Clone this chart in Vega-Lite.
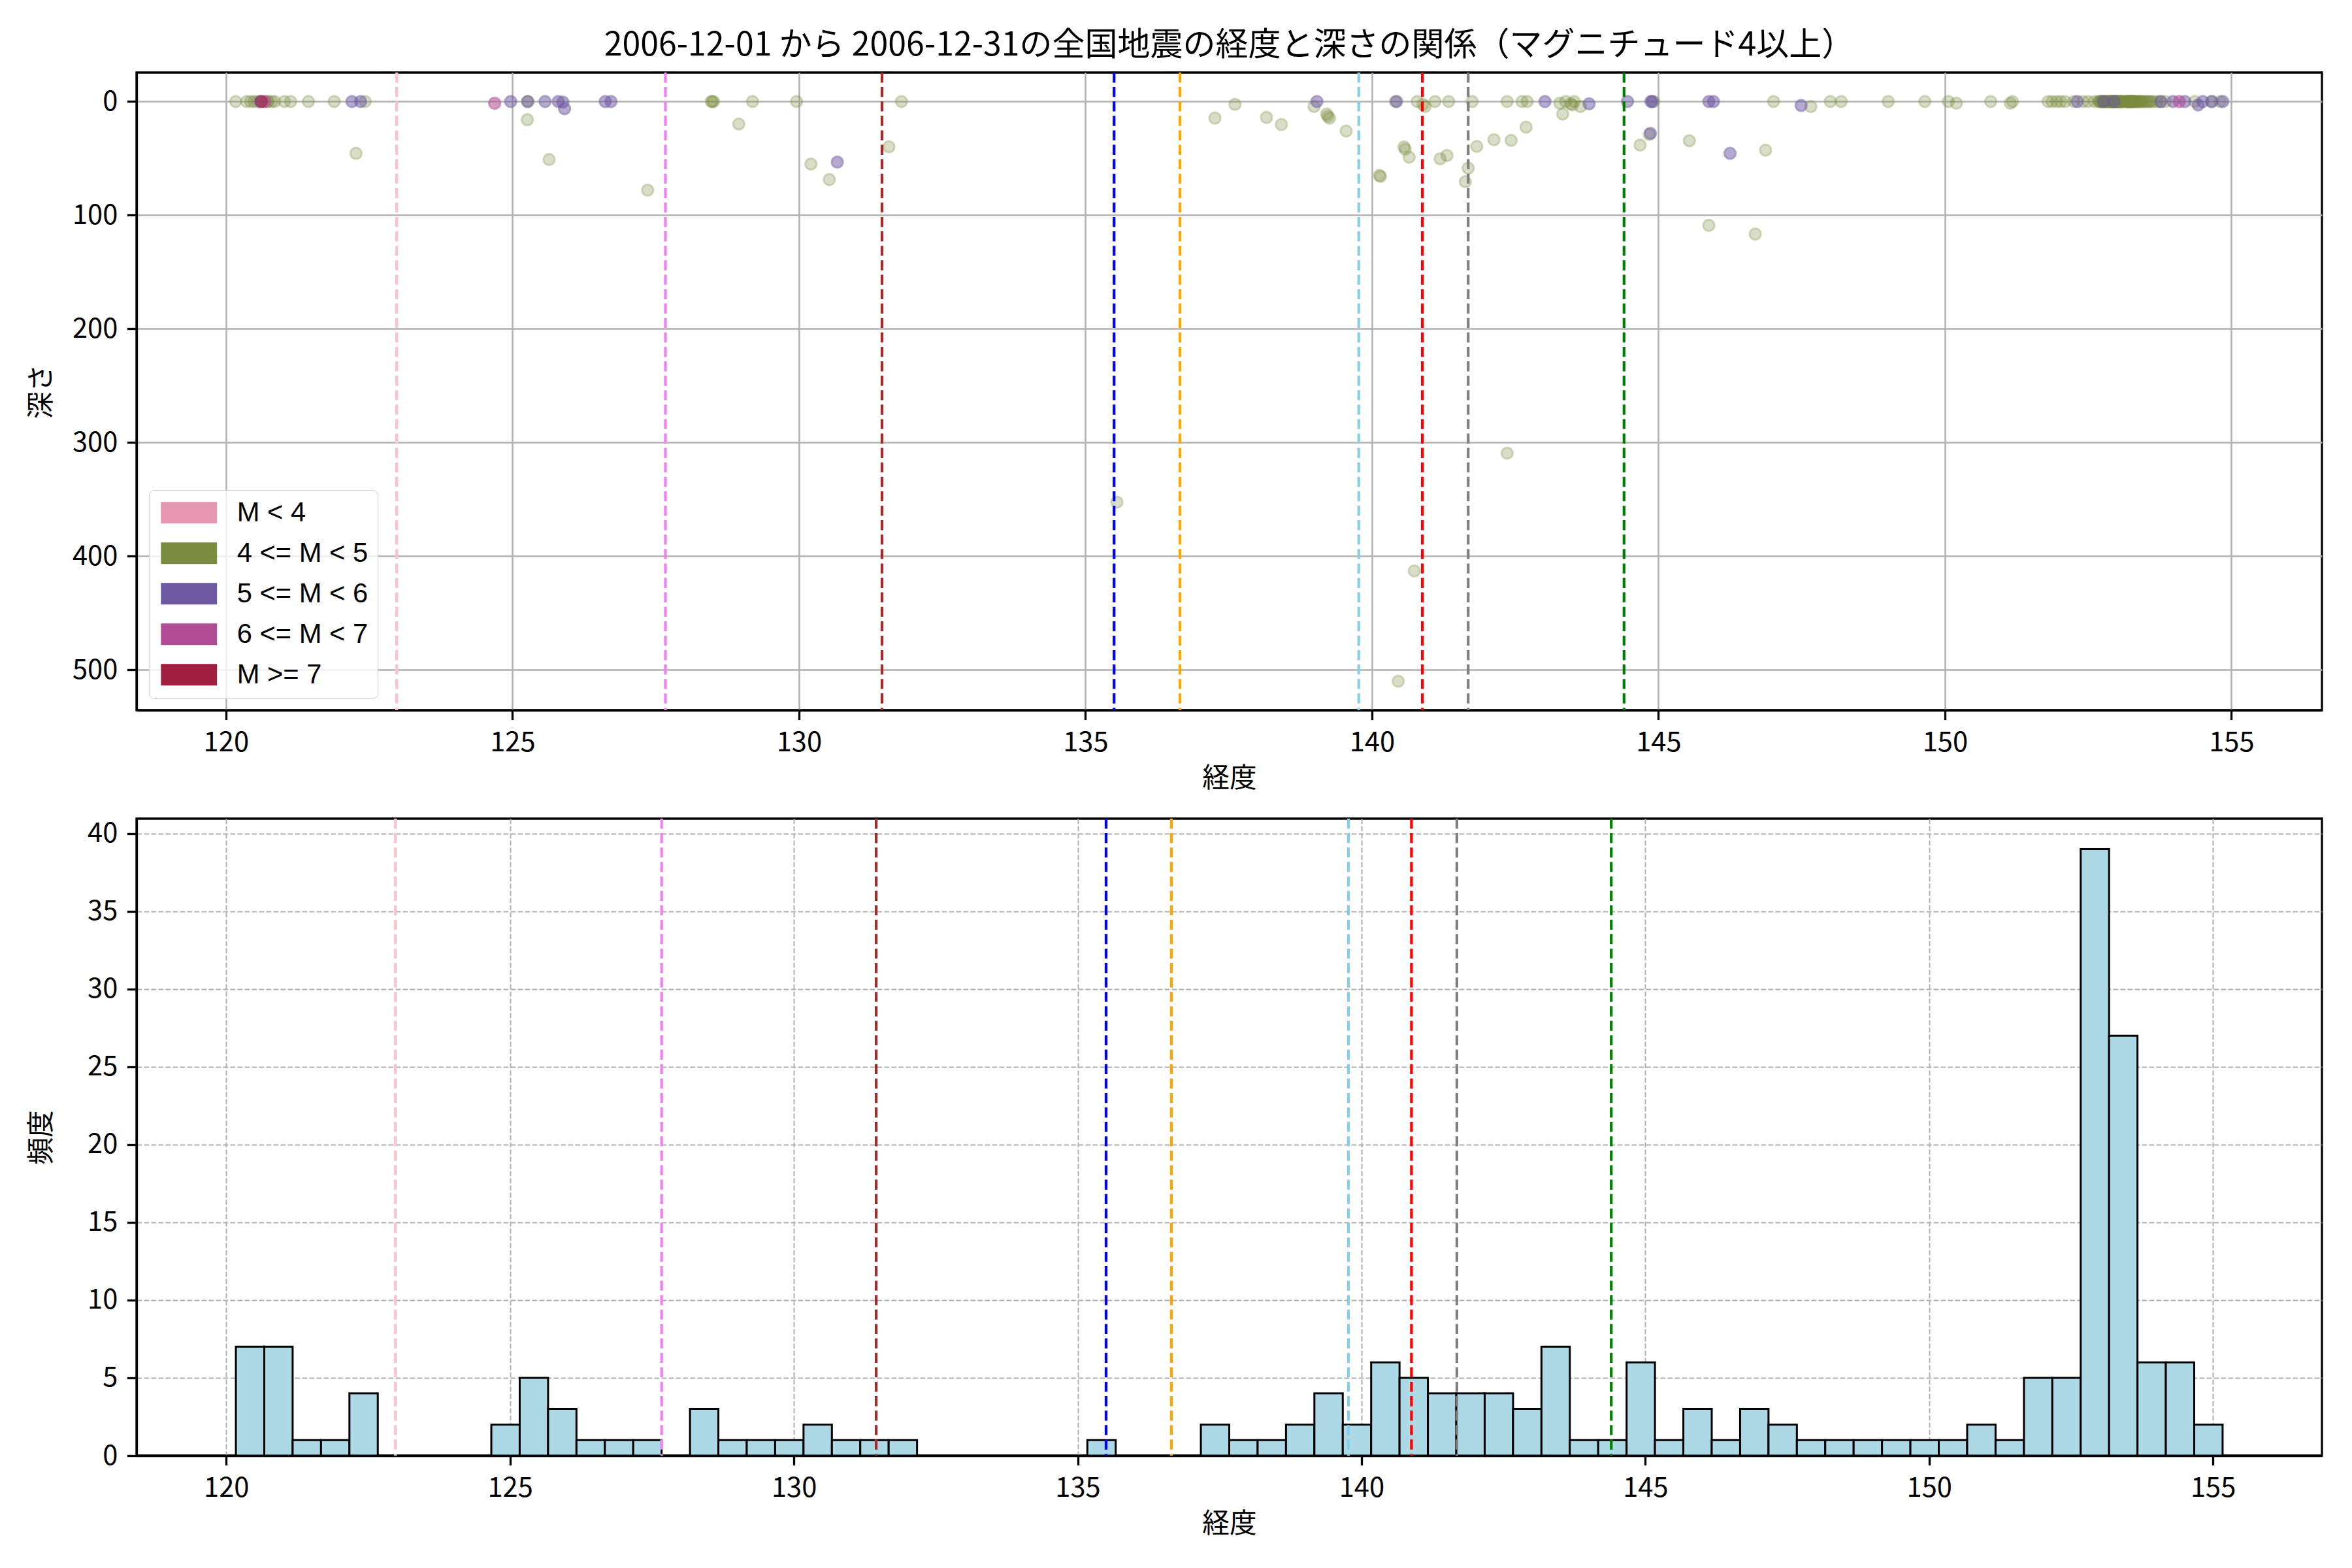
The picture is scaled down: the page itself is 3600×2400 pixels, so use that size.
{
  "$schema": "https://vega.github.io/schema/vega-lite/v6.json",
  "background": "white",
  "padding": {"left": 41, "top": 43, "right": 40, "bottom": 30},
  "spacing": 33,
  "config": {
    "font": "Noto Sans CJK JP",
    "view": {"stroke": "black", "strokeWidth": 3.3},
    "axis": {
      "labelFont": "Noto Sans CJK JP",
      "titleFont": "Noto Sans CJK JP",
      "labelFontSize": 41.7,
      "titleFontSize": 41.7,
      "titleFontWeight": "normal",
      "labelColor": "black",
      "titleColor": "black",
      "tickColor": "black",
      "tickSize": 14.6,
      "tickWidth": 3.3,
      "labelPadding": 14.6,
      "domainColor": "black",
      "domainWidth": 3.3,
      "zindex": 1
    }
  },
  "datasets": {
    "lines": [
      {"lon": 122.98, "ref": "L1"},
      {"lon": 127.67, "ref": "L2"},
      {"lon": 131.45, "ref": "L3"},
      {"lon": 135.5, "ref": "L4"},
      {"lon": 136.65, "ref": "L5"},
      {"lon": 139.77, "ref": "L6"},
      {"lon": 140.88, "ref": "L7"},
      {"lon": 141.68, "ref": "L8"},
      {"lon": 144.4, "ref": "L9"}
    ],
    "hist": [
      {"lon0": 120.17, "lon1": 120.67, "count": 7},
      {"lon0": 120.67, "lon1": 121.17, "count": 7},
      {"lon0": 121.17, "lon1": 121.67, "count": 1},
      {"lon0": 121.67, "lon1": 122.17, "count": 1},
      {"lon0": 122.17, "lon1": 122.67, "count": 4},
      {"lon0": 124.67, "lon1": 125.17, "count": 2},
      {"lon0": 125.17, "lon1": 125.67, "count": 5},
      {"lon0": 125.67, "lon1": 126.17, "count": 3},
      {"lon0": 126.17, "lon1": 126.67, "count": 1},
      {"lon0": 126.67, "lon1": 127.17, "count": 1},
      {"lon0": 127.17, "lon1": 127.67, "count": 1},
      {"lon0": 128.17, "lon1": 128.67, "count": 3},
      {"lon0": 128.67, "lon1": 129.17, "count": 1},
      {"lon0": 129.17, "lon1": 129.67, "count": 1},
      {"lon0": 129.67, "lon1": 130.17, "count": 1},
      {"lon0": 130.17, "lon1": 130.67, "count": 2},
      {"lon0": 130.67, "lon1": 131.17, "count": 1},
      {"lon0": 131.17, "lon1": 131.67, "count": 1},
      {"lon0": 131.67, "lon1": 132.17, "count": 1},
      {"lon0": 135.17, "lon1": 135.67, "count": 1},
      {"lon0": 137.17, "lon1": 137.67, "count": 2},
      {"lon0": 137.67, "lon1": 138.17, "count": 1},
      {"lon0": 138.17, "lon1": 138.67, "count": 1},
      {"lon0": 138.67, "lon1": 139.17, "count": 2},
      {"lon0": 139.17, "lon1": 139.67, "count": 4},
      {"lon0": 139.67, "lon1": 140.17, "count": 2},
      {"lon0": 140.17, "lon1": 140.67, "count": 6},
      {"lon0": 140.67, "lon1": 141.17, "count": 5},
      {"lon0": 141.17, "lon1": 141.67, "count": 4},
      {"lon0": 141.67, "lon1": 142.17, "count": 4},
      {"lon0": 142.17, "lon1": 142.67, "count": 4},
      {"lon0": 142.67, "lon1": 143.17, "count": 3},
      {"lon0": 143.17, "lon1": 143.67, "count": 7},
      {"lon0": 143.67, "lon1": 144.17, "count": 1},
      {"lon0": 144.17, "lon1": 144.67, "count": 1},
      {"lon0": 144.67, "lon1": 145.17, "count": 6},
      {"lon0": 145.17, "lon1": 145.67, "count": 1},
      {"lon0": 145.67, "lon1": 146.17, "count": 3},
      {"lon0": 146.17, "lon1": 146.67, "count": 1},
      {"lon0": 146.67, "lon1": 147.17, "count": 3},
      {"lon0": 147.17, "lon1": 147.67, "count": 2},
      {"lon0": 147.67, "lon1": 148.17, "count": 1},
      {"lon0": 148.17, "lon1": 148.67, "count": 1},
      {"lon0": 148.67, "lon1": 149.17, "count": 1},
      {"lon0": 149.17, "lon1": 149.67, "count": 1},
      {"lon0": 149.67, "lon1": 150.17, "count": 1},
      {"lon0": 150.17, "lon1": 150.67, "count": 1},
      {"lon0": 150.67, "lon1": 151.17, "count": 2},
      {"lon0": 151.17, "lon1": 151.67, "count": 1},
      {"lon0": 151.67, "lon1": 152.17, "count": 5},
      {"lon0": 152.17, "lon1": 152.67, "count": 5},
      {"lon0": 152.67, "lon1": 153.17, "count": 39},
      {"lon0": 153.17, "lon1": 153.67, "count": 27},
      {"lon0": 153.67, "lon1": 154.17, "count": 6},
      {"lon0": 154.17, "lon1": 154.67, "count": 6},
      {"lon0": 154.67, "lon1": 155.17, "count": 2}
    ],
    "quakes": [
      {"lon": 120.17, "depth": 0, "mag": "4 <= M < 5"},
      {"lon": 120.36, "depth": 0, "mag": "4 <= M < 5"},
      {"lon": 120.43, "depth": 0, "mag": "4 <= M < 5"},
      {"lon": 120.49, "depth": 0, "mag": "4 <= M < 5"},
      {"lon": 120.55, "depth": 0, "mag": "4 <= M < 5"},
      {"lon": 120.72, "depth": 0, "mag": "4 <= M < 5"},
      {"lon": 120.74, "depth": 0, "mag": "4 <= M < 5"},
      {"lon": 120.80, "depth": 0, "mag": "4 <= M < 5"},
      {"lon": 120.85, "depth": 0, "mag": "4 <= M < 5"},
      {"lon": 121.02, "depth": 0, "mag": "4 <= M < 5"},
      {"lon": 121.13, "depth": 0, "mag": "4 <= M < 5"},
      {"lon": 121.44, "depth": 0, "mag": "4 <= M < 5"},
      {"lon": 121.89, "depth": 0, "mag": "4 <= M < 5"},
      {"lon": 122.27, "depth": 45.6, "mag": "4 <= M < 5"},
      {"lon": 122.43, "depth": 0, "mag": "4 <= M < 5"},
      {"lon": 125.26, "depth": 0, "mag": "4 <= M < 5"},
      {"lon": 125.26, "depth": 16, "mag": "4 <= M < 5"},
      {"lon": 125.64, "depth": 51, "mag": "4 <= M < 5"},
      {"lon": 127.36, "depth": 78, "mag": "4 <= M < 5"},
      {"lon": 128.47, "depth": 0, "mag": "4 <= M < 5"},
      {"lon": 128.49, "depth": 0, "mag": "4 <= M < 5"},
      {"lon": 128.51, "depth": 0, "mag": "4 <= M < 5"},
      {"lon": 128.95, "depth": 19.8, "mag": "4 <= M < 5"},
      {"lon": 129.19, "depth": 0, "mag": "4 <= M < 5"},
      {"lon": 129.96, "depth": 0, "mag": "4 <= M < 5"},
      {"lon": 130.21, "depth": 55, "mag": "4 <= M < 5"},
      {"lon": 130.53, "depth": 68.7, "mag": "4 <= M < 5"},
      {"lon": 131.57, "depth": 39.9, "mag": "4 <= M < 5"},
      {"lon": 131.79, "depth": 0, "mag": "4 <= M < 5"},
      {"lon": 135.55, "depth": 352.5, "mag": "4 <= M < 5"},
      {"lon": 137.26, "depth": 14.6, "mag": "4 <= M < 5"},
      {"lon": 137.61, "depth": 2.5, "mag": "4 <= M < 5"},
      {"lon": 138.16, "depth": 14, "mag": "4 <= M < 5"},
      {"lon": 138.42, "depth": 20.3, "mag": "4 <= M < 5"},
      {"lon": 138.99, "depth": 4.4, "mag": "4 <= M < 5"},
      {"lon": 139.21, "depth": 11, "mag": "4 <= M < 5"},
      {"lon": 139.23, "depth": 13, "mag": "4 <= M < 5"},
      {"lon": 139.26, "depth": 14.6, "mag": "4 <= M < 5"},
      {"lon": 139.55, "depth": 26, "mag": "4 <= M < 5"},
      {"lon": 140.13, "depth": 65, "mag": "4 <= M < 5"},
      {"lon": 140.15, "depth": 66, "mag": "4 <= M < 5"},
      {"lon": 140.41, "depth": 0, "mag": "4 <= M < 5"},
      {"lon": 140.56, "depth": 40, "mag": "4 <= M < 5"},
      {"lon": 140.58, "depth": 42, "mag": "4 <= M < 5"},
      {"lon": 140.65, "depth": 49, "mag": "4 <= M < 5"},
      {"lon": 140.46, "depth": 510, "mag": "4 <= M < 5"},
      {"lon": 140.79, "depth": 0, "mag": "4 <= M < 5"},
      {"lon": 140.89, "depth": 2.5, "mag": "4 <= M < 5"},
      {"lon": 140.93, "depth": 4.4, "mag": "4 <= M < 5"},
      {"lon": 141.10, "depth": 0, "mag": "4 <= M < 5"},
      {"lon": 140.74, "depth": 413, "mag": "4 <= M < 5"},
      {"lon": 141.19, "depth": 50.4, "mag": "4 <= M < 5"},
      {"lon": 141.31, "depth": 47.5, "mag": "4 <= M < 5"},
      {"lon": 141.34, "depth": 0, "mag": "4 <= M < 5"},
      {"lon": 141.63, "depth": 70.6, "mag": "4 <= M < 5"},
      {"lon": 141.68, "depth": 58.7, "mag": "4 <= M < 5"},
      {"lon": 141.75, "depth": 0, "mag": "4 <= M < 5"},
      {"lon": 141.83, "depth": 39.5, "mag": "4 <= M < 5"},
      {"lon": 142.13, "depth": 33.6, "mag": "4 <= M < 5"},
      {"lon": 142.36, "depth": 0, "mag": "4 <= M < 5"},
      {"lon": 142.43, "depth": 34.2, "mag": "4 <= M < 5"},
      {"lon": 142.36, "depth": 309.4, "mag": "4 <= M < 5"},
      {"lon": 142.62, "depth": 0, "mag": "4 <= M < 5"},
      {"lon": 142.69, "depth": 22.6, "mag": "4 <= M < 5"},
      {"lon": 142.71, "depth": 0, "mag": "4 <= M < 5"},
      {"lon": 143.28, "depth": 1.5, "mag": "4 <= M < 5"},
      {"lon": 143.33, "depth": 11.1, "mag": "4 <= M < 5"},
      {"lon": 143.38, "depth": 0, "mag": "4 <= M < 5"},
      {"lon": 143.47, "depth": 2, "mag": "4 <= M < 5"},
      {"lon": 143.50, "depth": 3, "mag": "4 <= M < 5"},
      {"lon": 143.53, "depth": 0, "mag": "4 <= M < 5"},
      {"lon": 143.64, "depth": 4.4, "mag": "4 <= M < 5"},
      {"lon": 144.68, "depth": 38.4, "mag": "4 <= M < 5"},
      {"lon": 144.84, "depth": 29, "mag": "4 <= M < 5"},
      {"lon": 144.92, "depth": 0, "mag": "4 <= M < 5"},
      {"lon": 145.54, "depth": 34.5, "mag": "4 <= M < 5"},
      {"lon": 145.88, "depth": 109, "mag": "4 <= M < 5"},
      {"lon": 146.69, "depth": 116.6, "mag": "4 <= M < 5"},
      {"lon": 146.87, "depth": 42.8, "mag": "4 <= M < 5"},
      {"lon": 147.01, "depth": 0, "mag": "4 <= M < 5"},
      {"lon": 147.66, "depth": 4.4, "mag": "4 <= M < 5"},
      {"lon": 148.00, "depth": 0, "mag": "4 <= M < 5"},
      {"lon": 148.19, "depth": 0, "mag": "4 <= M < 5"},
      {"lon": 149.01, "depth": 0, "mag": "4 <= M < 5"},
      {"lon": 149.65, "depth": 0, "mag": "4 <= M < 5"},
      {"lon": 150.06, "depth": 0, "mag": "4 <= M < 5"},
      {"lon": 150.20, "depth": 1.5, "mag": "4 <= M < 5"},
      {"lon": 150.80, "depth": 0, "mag": "4 <= M < 5"},
      {"lon": 151.14, "depth": 1.5, "mag": "4 <= M < 5"},
      {"lon": 151.18, "depth": 0, "mag": "4 <= M < 5"},
      {"lon": 151.80, "depth": 0, "mag": "4 <= M < 5"},
      {"lon": 151.87, "depth": 0, "mag": "4 <= M < 5"},
      {"lon": 151.95, "depth": 0, "mag": "4 <= M < 5"},
      {"lon": 152.02, "depth": 0, "mag": "4 <= M < 5"},
      {"lon": 152.10, "depth": 0, "mag": "4 <= M < 5"},
      {"lon": 152.25, "depth": 0, "mag": "4 <= M < 5"},
      {"lon": 152.41, "depth": 0, "mag": "4 <= M < 5"},
      {"lon": 152.50, "depth": 0, "mag": "4 <= M < 5"},
      {"lon": 152.61, "depth": 0, "mag": "4 <= M < 5"},
      {"lon": 152.68, "depth": 0, "mag": "4 <= M < 5"},
      {"lon": 152.70, "depth": 0, "mag": "4 <= M < 5"},
      {"lon": 152.71, "depth": 0, "mag": "4 <= M < 5"},
      {"lon": 152.73, "depth": 0, "mag": "4 <= M < 5"},
      {"lon": 152.74, "depth": 0, "mag": "4 <= M < 5"},
      {"lon": 152.76, "depth": 0, "mag": "4 <= M < 5"},
      {"lon": 152.79, "depth": 0, "mag": "4 <= M < 5"},
      {"lon": 152.80, "depth": 0, "mag": "4 <= M < 5"},
      {"lon": 152.82, "depth": 0, "mag": "4 <= M < 5"},
      {"lon": 152.83, "depth": 0, "mag": "4 <= M < 5"},
      {"lon": 152.84, "depth": 0, "mag": "4 <= M < 5"},
      {"lon": 152.86, "depth": 0, "mag": "4 <= M < 5"},
      {"lon": 152.87, "depth": 0, "mag": "4 <= M < 5"},
      {"lon": 152.88, "depth": 0, "mag": "4 <= M < 5"},
      {"lon": 152.89, "depth": 0, "mag": "4 <= M < 5"},
      {"lon": 152.90, "depth": 0, "mag": "4 <= M < 5"},
      {"lon": 152.91, "depth": 0, "mag": "4 <= M < 5"},
      {"lon": 152.92, "depth": 0, "mag": "4 <= M < 5"},
      {"lon": 152.93, "depth": 0, "mag": "4 <= M < 5"},
      {"lon": 152.94, "depth": 0, "mag": "4 <= M < 5"},
      {"lon": 152.96, "depth": 0, "mag": "4 <= M < 5"},
      {"lon": 152.97, "depth": 0, "mag": "4 <= M < 5"},
      {"lon": 152.98, "depth": 0, "mag": "4 <= M < 5"},
      {"lon": 152.99, "depth": 0, "mag": "4 <= M < 5"},
      {"lon": 153.00, "depth": 0, "mag": "4 <= M < 5"},
      {"lon": 153.01, "depth": 0, "mag": "4 <= M < 5"},
      {"lon": 153.02, "depth": 0, "mag": "4 <= M < 5"},
      {"lon": 153.03, "depth": 0, "mag": "4 <= M < 5"},
      {"lon": 153.04, "depth": 0, "mag": "4 <= M < 5"},
      {"lon": 153.05, "depth": 0, "mag": "4 <= M < 5"},
      {"lon": 153.06, "depth": 0, "mag": "4 <= M < 5"},
      {"lon": 153.07, "depth": 0, "mag": "4 <= M < 5"},
      {"lon": 153.08, "depth": 0, "mag": "4 <= M < 5"},
      {"lon": 153.10, "depth": 0, "mag": "4 <= M < 5"},
      {"lon": 153.12, "depth": 0, "mag": "4 <= M < 5"},
      {"lon": 153.14, "depth": 0, "mag": "4 <= M < 5"},
      {"lon": 153.16, "depth": 0, "mag": "4 <= M < 5"},
      {"lon": 153.18, "depth": 0, "mag": "4 <= M < 5"},
      {"lon": 153.19, "depth": 0, "mag": "4 <= M < 5"},
      {"lon": 153.20, "depth": 0, "mag": "4 <= M < 5"},
      {"lon": 153.21, "depth": 0, "mag": "4 <= M < 5"},
      {"lon": 153.22, "depth": 0, "mag": "4 <= M < 5"},
      {"lon": 153.23, "depth": 0, "mag": "4 <= M < 5"},
      {"lon": 153.24, "depth": 0, "mag": "4 <= M < 5"},
      {"lon": 153.25, "depth": 0, "mag": "4 <= M < 5"},
      {"lon": 153.26, "depth": 0, "mag": "4 <= M < 5"},
      {"lon": 153.27, "depth": 0, "mag": "4 <= M < 5"},
      {"lon": 153.28, "depth": 0, "mag": "4 <= M < 5"},
      {"lon": 153.29, "depth": 0, "mag": "4 <= M < 5"},
      {"lon": 153.30, "depth": 0, "mag": "4 <= M < 5"},
      {"lon": 153.31, "depth": 0, "mag": "4 <= M < 5"},
      {"lon": 153.33, "depth": 0, "mag": "4 <= M < 5"},
      {"lon": 153.35, "depth": 0, "mag": "4 <= M < 5"},
      {"lon": 153.37, "depth": 0, "mag": "4 <= M < 5"},
      {"lon": 153.39, "depth": 0, "mag": "4 <= M < 5"},
      {"lon": 153.41, "depth": 0, "mag": "4 <= M < 5"},
      {"lon": 153.43, "depth": 0, "mag": "4 <= M < 5"},
      {"lon": 153.45, "depth": 0, "mag": "4 <= M < 5"},
      {"lon": 153.48, "depth": 0, "mag": "4 <= M < 5"},
      {"lon": 153.51, "depth": 0, "mag": "4 <= M < 5"},
      {"lon": 153.54, "depth": 0, "mag": "4 <= M < 5"},
      {"lon": 153.57, "depth": 0, "mag": "4 <= M < 5"},
      {"lon": 153.60, "depth": 0, "mag": "4 <= M < 5"},
      {"lon": 153.64, "depth": 0, "mag": "4 <= M < 5"},
      {"lon": 153.70, "depth": 0, "mag": "4 <= M < 5"},
      {"lon": 153.76, "depth": 0, "mag": "4 <= M < 5"},
      {"lon": 153.85, "depth": 0, "mag": "4 <= M < 5"},
      {"lon": 154.36, "depth": 0, "mag": "4 <= M < 5"},
      {"lon": 154.65, "depth": 0, "mag": "4 <= M < 5"},
      {"lon": 154.80, "depth": 0, "mag": "4 <= M < 5"},
      {"lon": 120.60, "depth": 0, "mag": "5 <= M < 6"},
      {"lon": 122.20, "depth": 0, "mag": "5 <= M < 6"},
      {"lon": 122.35, "depth": 0, "mag": "5 <= M < 6"},
      {"lon": 124.97, "depth": 0, "mag": "5 <= M < 6"},
      {"lon": 125.27, "depth": 0, "mag": "5 <= M < 6"},
      {"lon": 125.57, "depth": 0, "mag": "5 <= M < 6"},
      {"lon": 125.80, "depth": 0, "mag": "5 <= M < 6"},
      {"lon": 125.88, "depth": 0.6, "mag": "5 <= M < 6"},
      {"lon": 125.91, "depth": 6.3, "mag": "5 <= M < 6"},
      {"lon": 126.62, "depth": 0, "mag": "5 <= M < 6"},
      {"lon": 126.72, "depth": 0, "mag": "5 <= M < 6"},
      {"lon": 130.67, "depth": 53.3, "mag": "5 <= M < 6"},
      {"lon": 139.04, "depth": 0, "mag": "5 <= M < 6"},
      {"lon": 140.43, "depth": 0, "mag": "5 <= M < 6"},
      {"lon": 143.02, "depth": 0, "mag": "5 <= M < 6"},
      {"lon": 143.79, "depth": 2, "mag": "5 <= M < 6"},
      {"lon": 144.46, "depth": 0, "mag": "5 <= M < 6"},
      {"lon": 144.86, "depth": 28, "mag": "5 <= M < 6"},
      {"lon": 144.87, "depth": 0, "mag": "5 <= M < 6"},
      {"lon": 144.89, "depth": 0, "mag": "5 <= M < 6"},
      {"lon": 145.88, "depth": 0, "mag": "5 <= M < 6"},
      {"lon": 145.96, "depth": 0, "mag": "5 <= M < 6"},
      {"lon": 146.25, "depth": 45.6, "mag": "5 <= M < 6"},
      {"lon": 147.49, "depth": 3.5, "mag": "5 <= M < 6"},
      {"lon": 152.31, "depth": 0, "mag": "5 <= M < 6"},
      {"lon": 152.77, "depth": 0, "mag": "5 <= M < 6"},
      {"lon": 152.95, "depth": 0, "mag": "5 <= M < 6"},
      {"lon": 153.77, "depth": 0, "mag": "5 <= M < 6"},
      {"lon": 153.98, "depth": 0, "mag": "5 <= M < 6"},
      {"lon": 154.19, "depth": 0, "mag": "5 <= M < 6"},
      {"lon": 154.42, "depth": 3, "mag": "5 <= M < 6"},
      {"lon": 154.50, "depth": 0, "mag": "5 <= M < 6"},
      {"lon": 154.66, "depth": 0, "mag": "5 <= M < 6"},
      {"lon": 154.85, "depth": 0, "mag": "5 <= M < 6"},
      {"lon": 120.68, "depth": 0, "mag": "6 <= M < 7"},
      {"lon": 124.69, "depth": 1.5, "mag": "6 <= M < 7"},
      {"lon": 154.09, "depth": 0, "mag": "6 <= M < 7"},
      {"lon": 120.62, "depth": 0, "mag": "M >= 7"}
    ]
  },
  "vconcat": [
    {
      "width": 3345,
      "height": 976,
      "title": {
        "text": "2006-12-01 から 2006-12-31の全国地震の経度と深さの関係（マグニチュード4以上）",
        "font": "Noto Sans CJK JP",
        "fontSize": 50,
        "fontWeight": "normal",
        "color": "black",
        "anchor": "middle",
        "baseline": "top",
        "offset": 14
      },
      "layer": [
        {
          "data": {"name": "quakes"},
          "mark": {"type": "point", "shape": "circle", "filled": true, "size": 300, "strokeWidth": 3},
          "encoding": {
            "x": {
              "field": "lon", "type": "quantitative",
              "scale": {"domain": [118.44, 156.58], "nice": false, "zero": false},
              "axis": {"values": [120, 125, 130, 135, 140, 145, 150, 155], "format": "d", "title": "経度", "titlePadding": 14, "grid": true, "gridColor": "#b0b0b0", "gridWidth": 2.5}
            },
            "y": {
              "field": "depth", "type": "quantitative",
              "scale": {"domain": [-25.5, 535.5], "reverse": true, "nice": false, "zero": false},
              "axis": {"values": [0, 100, 200, 300, 400, 500], "format": "d", "title": "深さ", "titleX": -146, "titleY": 488, "titleAngle": 270, "titleAlign": "center", "titleBaseline": "middle", "grid": true, "gridColor": "#b0b0b0", "gridWidth": 2.5}
            },
            "fill": {
              "field": "mag", "type": "nominal",
              "scale": {"domain": ["M < 4", "4 <= M < 5", "5 <= M < 6", "6 <= M < 7", "M >= 7"], "range": ["#e597b2", "#7b8b3f", "#6e59a1", "#b14c94", "#a01f41"]},
              "legend": {
                "orient": "none", "legendX": 19, "legendY": 639, "title": null,
                "symbolType": "M-1,-1H4.2V1H-1Z", "symbolSize": 1089,
                "symbolOpacity": 1, "symbolStrokeWidth": 0,
                "labelFont": "Liberation Sans", "labelFontSize": 41.7, "labelColor": "black", "labelLimit": 0,
                "labelOffset": 79, "rowPadding": 19, "padding": 14,
                "strokeColor": "#d0d0d0", "fillColor": "rgba(255,255,255,0.8)", "cornerRadius": 8
              }
            },
            "stroke": {
              "field": "mag", "type": "nominal",
              "scale": {"domain": ["M < 4", "4 <= M < 5", "5 <= M < 6", "6 <= M < 7", "M >= 7"], "range": ["#e597b2", "#7b8b3f", "#6e59a1", "#b14c94", "#a01f41"]},
              "legend": null
            },
            "fillOpacity": {
              "condition": [
                {"test": "datum.mag === '4 <= M < 5'", "value": 0.4},
                {"test": "datum.mag === '5 <= M < 6'", "value": 0.72}
              ],
              "value": 0.8
            },
            "strokeOpacity": {
              "condition": [
                {"test": "datum.mag === '4 <= M < 5'", "value": 0.45},
                {"test": "datum.mag === '5 <= M < 6'", "value": 0.72}
              ],
              "value": 0.8
            }
          }
        },
        {
          "data": {"name": "lines"},
          "mark": {"type": "rule", "strokeDash": [15.4, 6.7], "strokeWidth": 4.2},
          "encoding": {
            "x": {"field": "lon", "type": "quantitative"},
            "color": {
              "field": "ref", "type": "nominal",
              "scale": {"domain": ["L1", "L2", "L3", "L4", "L5", "L6", "L7", "L8", "L9"], "range": ["pink", "violet", "brown", "blue", "orange", "skyblue", "red", "gray", "green"]},
              "legend": null
            }
          }
        }
      ]
    },
    {
      "width": 3345,
      "height": 975,
      "layer": [
        {
          "data": {"name": "hist"},
          "mark": {"type": "rect", "fill": "#add8e6", "stroke": "black", "strokeWidth": 3},
          "encoding": {
            "x": {
              "field": "lon0", "type": "quantitative",
              "scale": {"domain": [118.42, 156.92], "nice": false, "zero": false},
              "axis": {"values": [120, 125, 130, 135, 140, 145, 150, 155], "format": "d", "title": "経度", "titlePadding": 14, "grid": true, "gridColor": "#b0b0b0", "gridWidth": 2, "gridDash": [7.7, 3.3]}
            },
            "x2": {"field": "lon1"},
            "y": {
              "field": "count", "type": "quantitative",
              "scale": {"domain": [0, 40.95], "nice": false, "zero": false},
              "axis": {"values": [0, 5, 10, 15, 20, 25, 30, 35, 40], "format": "d", "title": "頻度", "titleX": -146, "titleY": 487.5, "titleAngle": 270, "titleAlign": "center", "titleBaseline": "middle", "grid": true, "gridColor": "#b0b0b0", "gridWidth": 2, "gridDash": [7.7, 3.3]}
            },
            "y2": {"datum": 0}
          }
        },
        {
          "data": {"name": "lines"},
          "mark": {"type": "rule", "strokeDash": [15.4, 6.7], "strokeWidth": 4.2},
          "encoding": {
            "x": {"field": "lon", "type": "quantitative"},
            "color": {
              "field": "ref", "type": "nominal",
              "scale": {"domain": ["L1", "L2", "L3", "L4", "L5", "L6", "L7", "L8", "L9"], "range": ["pink", "violet", "brown", "blue", "orange", "skyblue", "red", "gray", "green"]},
              "legend": null
            }
          }
        }
      ]
    }
  ]
}
